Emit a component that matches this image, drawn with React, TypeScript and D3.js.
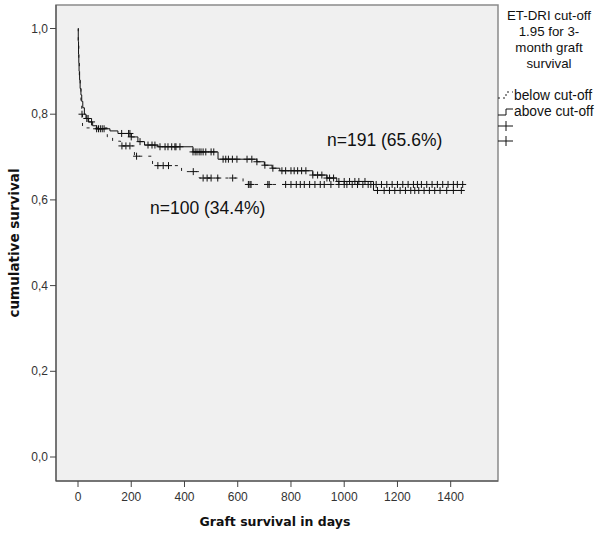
import React from "react";
import * as d3 from "d3";

// Kaplan-Meier steps (time in days, cumulative survival)
const aboveTimes = [0, 1, 2, 3, 4, 6, 8, 11, 14, 18, 24, 30, 40, 55, 70, 120, 150, 200, 225, 250, 300, 432, 526, 672, 700, 729, 758, 882, 935, 972, 1110];
const aboveSurv = [1, 0.97, 0.94, 0.92, 0.9, 0.88, 0.86, 0.845, 0.83, 0.815, 0.8, 0.79, 0.782, 0.773, 0.766, 0.761, 0.755, 0.747, 0.736, 0.728, 0.724, 0.712, 0.695, 0.689, 0.681, 0.674, 0.668, 0.658, 0.651, 0.643, 0.622];
const aboveCensor = [33, 38, 51, 70, 77, 84, 91, 98, 164, 190, 195, 200, 233, 263, 278, 289, 308, 327, 338, 352, 364, 368, 383, 432, 440, 447, 455, 462, 470, 480, 500, 510, 545, 555, 565, 580, 597, 635, 653, 672, 702, 732, 766, 780, 800, 812, 825, 840, 856, 882, 900, 916, 935, 945, 960, 980, 1000, 1020, 1040, 1055, 1078, 1125, 1150, 1170, 1190, 1210, 1230, 1250, 1265, 1280, 1300, 1320, 1340, 1360, 1385, 1410, 1440];
const aboveEnd = 1450;

const belowTimes = [0, 1, 3, 5, 8, 11, 14, 17, 110, 130, 160, 212, 280, 389, 455, 620];
const belowSurv = [1, 0.96, 0.92, 0.89, 0.86, 0.83, 0.8, 0.768, 0.747, 0.737, 0.726, 0.702, 0.68, 0.666, 0.651, 0.636];
const belowCensor = [15, 165, 180, 195, 220, 300, 320, 340, 433, 470, 485, 500, 525, 581, 640, 646, 650, 713, 718, 780, 800, 820, 835, 850, 870, 890, 910, 925, 950, 980, 1000, 1010, 1030, 1050, 1070, 1090, 1100, 1120, 1140, 1160, 1180, 1200, 1220, 1240, 1260, 1275, 1290, 1310, 1330, 1350, 1370, 1390, 1410, 1425, 1445];
const belowEnd = 1450;

const xTicks = [0, 200, 400, 600, 800, 1000, 1200, 1400];
const yTicks = [0, 0.2, 0.4, 0.6, 0.8, 1.0];
const legendTitle = ["ET-DRI cut-off", "1.95 for 3-", "month graft", "survival"];
const legendItems = ["below cut-off", "above cut-off"];

const W = 600;
const H = 533;
const plot = { left: 56, right: 498, top: 5, bottom: 481 };

const x = d3.scaleLinear().domain([0, 1400]).range([78, 450.7]);
const y = d3.scaleLinear().domain([0, 1]).range([457, 28.5]);

function survAt(times: number[], surv: number[], t: number) {
  const i = d3.bisectRight(times, t) - 1;
  return surv[Math.max(0, i)];
}

const line = d3
  .line<[number, number]>()
  .x((d) => x(d[0]))
  .y((d) => y(d[1]))
  .curve(d3.curveStepAfter);

function curvePath(times: number[], surv: number[], end: number) {
  const pts: [number, number][] = times.map((t, i) => [t, surv[i]]);
  pts.push([end, surv[surv.length - 1]]);
  return line(pts) || "";
}

function Censors({ times, surv, marks }: { times: number[]; surv: number[]; marks: number[] }) {
  const h = 3.5;
  return (
    <g stroke="#111" strokeWidth={1}>
      {marks.map((t, i) => {
        const cx = x(t);
        const cy = y(survAt(times, surv, t));
        return <path key={i} d={`M${cx - h},${cy}H${cx + h}M${cx},${cy - h}V${cy + h}`} />;
      })}
    </g>
  );
}

export default function App() {
  const sans = "'Liberation Sans', Arial, sans-serif";
  const bold = "'DejaVu Sans', Verdana, sans-serif";
  return (
    <svg width={W} height={H} style={{ position: "absolute", left: 0, top: 0, background: "#fff" }}>
      <rect x={plot.left} y={plot.top} width={plot.right - plot.left} height={plot.bottom - plot.top} fill="#f0f0f0" stroke="#8a8a8a" strokeWidth={1.5} />
      <line x1={plot.left} x2={plot.left} y1={plot.top} y2={plot.bottom} stroke="#444" />
      <line x1={plot.left} x2={plot.right} y1={plot.bottom} y2={plot.bottom} stroke="#444" />

      {/* y axis */}
      {yTicks.map((v) => (
        <g key={v}>
          <line x1={plot.left - 6} x2={plot.left} y1={y(v)} y2={y(v)} stroke="#444" />
          <text x={plot.left - 8} y={y(v) + 4} textAnchor="end" fontFamily={sans} fontSize={12} fill="#333">
            {d3.format(".1f")(v).replace(".", ",")}
          </text>
        </g>
      ))}
      {/* x axis */}
      {xTicks.map((v) => (
        <g key={v}>
          <line x1={x(v)} x2={x(v)} y1={plot.bottom} y2={plot.bottom + 6} stroke="#444" />
          <text x={x(v)} y={501} textAnchor="middle" fontFamily={sans} fontSize={12} fill="#333">
            {v}
          </text>
        </g>
      ))}

      <text x={275} y={526} textAnchor="middle" fontFamily={bold} fontWeight="bold" fontSize={12.5} fill="#111">
        Graft survival in days
      </text>
      <text transform="translate(19,243) rotate(-90)" textAnchor="middle" fontFamily={bold} fontWeight="bold" fontSize={13.5} fill="#111">
        cumulative survival
      </text>

      {/* curves */}
      <path d={curvePath(belowTimes, belowSurv, belowEnd)} fill="none" stroke="#222" strokeWidth={1} strokeDasharray="3,6" />
      <path d={curvePath(aboveTimes, aboveSurv, aboveEnd)} fill="none" stroke="#111" strokeWidth={1} />
      <Censors times={belowTimes} surv={belowSurv} marks={belowCensor} />
      <Censors times={aboveTimes} surv={aboveSurv} marks={aboveCensor} />

      <text x={327} y={146} fontFamily={sans} fontSize={17.5} fill="#111">n=191 (65.6%)</text>
      <text x={150} y={214} fontFamily={sans} fontSize={17.5} fill="#111">n=100 (34.4%)</text>

      {/* legend */}
      {legendTitle.map((s, i) => (
        <text key={s} x={549} y={20 + i * 16} textAnchor="middle" fontFamily={sans} fontSize={13.3} fill="#111">
          {s}
        </text>
      ))}
      <path d="M498,98H506V92H513" fill="none" stroke="#222" strokeDasharray="2,3" />
      <path d="M498,115H506V109H513" fill="none" stroke="#111" />
      {legendItems.map((s, i) => (
        <text key={s} x={514} y={100 + i * 16} fontFamily={sans} fontSize={13.8} fill="#111">
          {s}
        </text>
      ))}
      {[126, 141].map((cy) => (
        <path key={cy} d={`M498,${cy}H513M506,${cy - 5}V${cy + 5}`} stroke="#111" />
      ))}
    </svg>
  );
}
